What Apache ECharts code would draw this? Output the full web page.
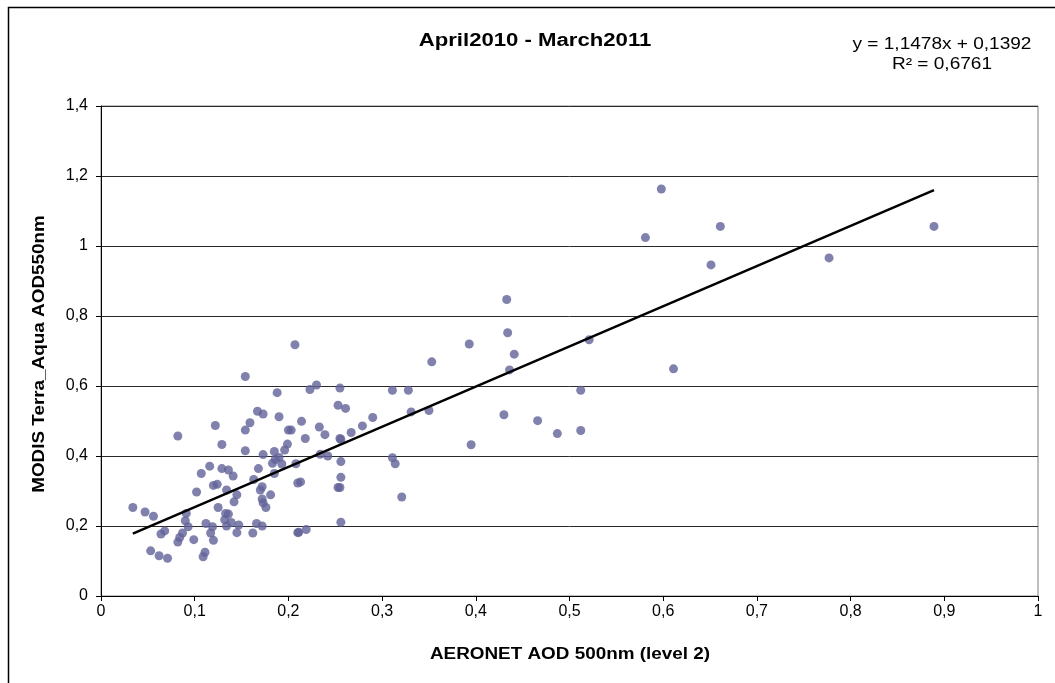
<!DOCTYPE html>
<html>
<head>
<meta charset="utf-8">
<script src="https://cdn.jsdelivr.net/npm/echarts@6/dist/echarts.min.js"></script>
<style>
  html, body { margin: 0; padding: 0; background: #fff; }
  #chart { width: 1055px; height: 683px; }
</style>
</head>
<body>
<div id="chart"></div>
<script>
// AERONET AOD 500nm (level 2) vs MODIS Terra/Aqua AOD 550nm, April 2010 - March 2011
const aeronetAod = [
  0.207, 0.154, 0.188, 0.167, 0.173, 0.190, 0.159, 0.122, 0.154, 0.200,
  0.203, 0.082, 0.199, 0.129, 0.196, 0.154, 0.185, 0.173, 0.190, 0.186,
  0.183, 0.193, 0.185, 0.208, 0.116, 0.107, 0.129, 0.136, 0.141, 0.168,
  0.163, 0.210, 0.213, 0.120, 0.124, 0.134, 0.172, 0.170, 0.102, 0.145,
  0.181, 0.172, 0.173, 0.176, 0.142, 0.125, 0.034, 0.047, 0.056, 0.091,
  0.090, 0.093, 0.133, 0.136, 0.132, 0.139, 0.147, 0.134, 0.112, 0.119,
  0.117, 0.120, 0.145, 0.166, 0.172, 0.162, 0.210, 0.068, 0.064, 0.087,
  0.084, 0.082, 0.099, 0.053, 0.062, 0.071, 0.111, 0.109, 0.353, 0.223,
  0.230, 0.255, 0.311, 0.328, 0.253, 0.261, 0.331, 0.350, 0.290, 0.214,
  0.233, 0.239, 0.279, 0.267, 0.255, 0.256, 0.218, 0.234, 0.242, 0.256,
  0.311, 0.314, 0.256, 0.253, 0.255, 0.321, 0.256, 0.211, 0.219, 0.598,
  0.581, 0.661, 0.651, 0.433, 0.434, 0.393, 0.441, 0.521, 0.436, 0.512,
  0.430, 0.466, 0.487, 0.512, 0.395, 0.611, 0.777, 0.889
];
const modisAod = [
  0.718, 0.627, 0.581, 0.528, 0.520, 0.512, 0.495, 0.487, 0.474, 0.474,
  0.474, 0.457, 0.434, 0.433, 0.417, 0.415, 0.413, 0.404, 0.396, 0.390,
  0.379, 0.377, 0.350, 0.378, 0.371, 0.350, 0.364, 0.360, 0.343, 0.364,
  0.333, 0.323, 0.326, 0.316, 0.319, 0.303, 0.312, 0.303, 0.297, 0.289,
  0.289, 0.277, 0.266, 0.253, 0.269, 0.253, 0.253, 0.240, 0.228, 0.236,
  0.215, 0.198, 0.236, 0.234, 0.218, 0.210, 0.203, 0.200, 0.207, 0.198,
  0.180, 0.159, 0.181, 0.207, 0.200, 0.180, 0.181, 0.186, 0.177, 0.180,
  0.167, 0.154, 0.161, 0.129, 0.115, 0.108, 0.125, 0.112, 0.669, 0.590,
  0.603, 0.594, 0.588, 0.588, 0.545, 0.536, 0.526, 0.530, 0.510, 0.499,
  0.483, 0.461, 0.486, 0.467, 0.450, 0.447, 0.450, 0.405, 0.400, 0.384,
  0.395, 0.378, 0.339, 0.310, 0.310, 0.283, 0.211, 0.182, 0.190, 1.163,
  1.024, 1.056, 0.946, 0.847, 0.752, 0.720, 0.691, 0.732, 0.646, 0.588,
  0.518, 0.501, 0.464, 0.473, 0.432, 0.649, 0.966, 1.056
];

// Linear trendline reported on the chart
const trendSlope = 1.1478;
const trendIntercept = 0.1392;
const trendLabel = 'y = 1,1478x + 0,1392';
const r2Label = 'R\u00b2 = 0,6761';

const titleText = 'April2010 - March2011';
const xAxisTitle = 'AERONET AOD 500nm (level 2)';
const yAxisTitle = 'MODIS Terra_Aqua AOD550nm';

const points = aeronetAod.map((x, i) => [x, modisAod[i]]);
const xLo = Math.min(...aeronetAod);
const xHi = Math.max(...aeronetAod);
const trendPoints = [
  [xLo, trendSlope * xLo + trendIntercept],
  [xHi, trendSlope * xHi + trendIntercept]
];

const commaDecimal = v => String(Math.round(v * 1000) / 1000).replace('.', ',');
const font = 'Liberation Sans, Arial, Helvetica, sans-serif';

const chart = echarts.init(document.getElementById('chart'), null, { renderer: 'canvas' });

chart.setOption({
  backgroundColor: '#ffffff',
  animation: false,
  grid: {
    left: 101, right: 17, top: 106, bottom: 87,
    show: true, borderColor: '#808080', borderWidth: 1
  },
  xAxis: {
    type: 'value', min: 0, max: 1, interval: 0.1,
    axisLine: { show: true, onZero: false, lineStyle: { color: '#000', width: 1 } },
    axisTick: { show: true, inside: false, length: 5, lineStyle: { color: '#000' } },
    axisLabel: { color: '#000', fontSize: 16, fontFamily: font, margin: 8, formatter: commaDecimal },
    splitLine: { show: false }
  },
  yAxis: {
    type: 'value', min: 0, max: 1.4, interval: 0.2,
    axisLine: { show: true, onZero: false, lineStyle: { color: '#000', width: 1 } },
    axisTick: { show: true, inside: false, length: 5, lineStyle: { color: '#000' } },
    axisLabel: { color: '#000', fontSize: 16, fontFamily: font, margin: 13, formatter: commaDecimal },
    splitLine: { show: true, lineStyle: { color: '#2a2a2a', width: 1 } }
  },
  series: [
    {
      type: 'scatter',
      data: points,
      symbol: 'circle',
      symbolSize: 9,
      itemStyle: { color: '#626299' },
      z: 3
    },
    {
      type: 'line',
      data: trendPoints,
      symbol: 'none',
      lineStyle: { color: '#000', width: 2.5 },
      z: 4
    }
  ],
  graphic: [
    {
      type: 'rect', silent: true,
      shape: { x: 8.5, y: 7.5, width: 1200, height: 800 },
      style: { fill: 'none', stroke: '#000', lineWidth: 1.5 }
    },
    {
      type: 'text', x: 535, y: 41, scaleX: 1.23,
      style: { x: 0, y: 0, text: titleText, fill: '#000', font: 'bold 18px ' + font,
               textAlign: 'center', textVerticalAlign: 'middle' }
    },
    {
      type: 'text', x: 942, y: 45, scaleX: 1.19,
      style: { x: 0, y: 0, text: trendLabel, fill: '#000', font: '16px ' + font,
               textAlign: 'center', textVerticalAlign: 'middle' }
    },
    {
      type: 'text', x: 942, y: 65, scaleX: 1.19,
      style: { x: 0, y: 0, text: r2Label, fill: '#000', font: '16px ' + font,
               textAlign: 'center', textVerticalAlign: 'middle' }
    },
    {
      type: 'text', x: 570, y: 655, scaleX: 1.18,
      style: { x: 0, y: 0, text: xAxisTitle, fill: '#000', font: 'bold 16px ' + font,
               textAlign: 'center', textVerticalAlign: 'middle' }
    },
    {
      type: 'text', x: 40, y: 354, rotation: Math.PI / 2, scaleX: 1.18,
      style: { x: 0, y: 0, text: yAxisTitle, fill: '#000', font: 'bold 16px ' + font,
               textAlign: 'center', textVerticalAlign: 'middle' }
    }
  ]
});
</script>
</body>
</html>
